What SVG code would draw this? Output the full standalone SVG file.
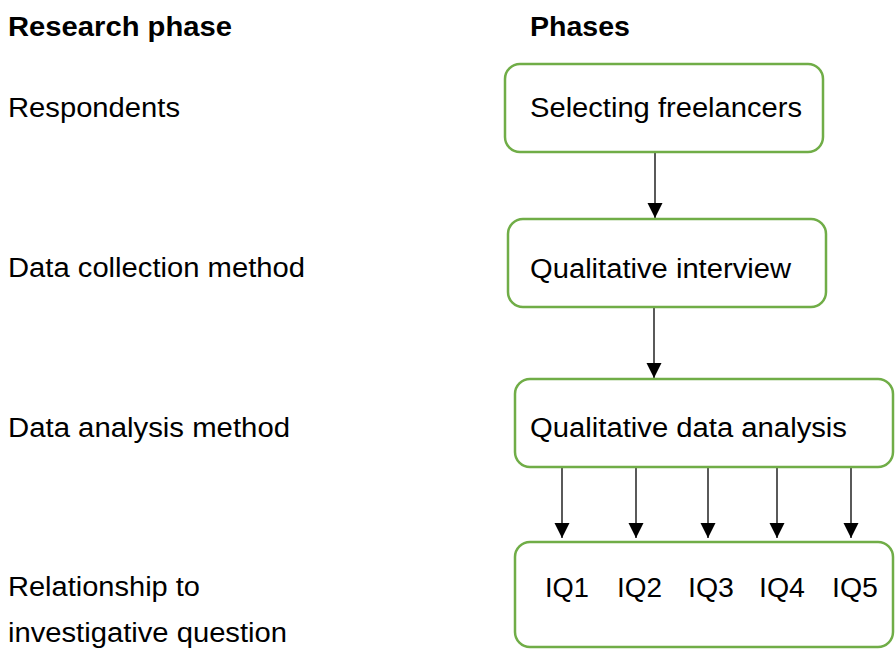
<svg xmlns="http://www.w3.org/2000/svg" width="896" height="649" viewBox="0 0 896 649">
<style>
.t{font-family:"Liberation Sans",Arial,sans-serif;font-size:27px;fill:#000}
.b{font-weight:bold}
.box{fill:#fff;stroke:#70AD47;stroke-width:2.5}
.c{stroke:#000;stroke-width:1.3;fill:none}
</style>
<defs>
<marker id="ah" markerUnits="userSpaceOnUse" markerWidth="16" markerHeight="16" viewBox="0 0 16 16" refX="15" refY="8" orient="auto">
<path d="M0,0.5 L15,8 L0,15.5 Z" fill="#000"/>
</marker>
</defs>
<rect width="896" height="649" fill="#fff"/>
<g id="labels">
<text class="t b" x="8" y="36" textLength="224" lengthAdjust="spacingAndGlyphs">Research phase</text>
<text class="t b" x="530" y="36" textLength="100" lengthAdjust="spacingAndGlyphs">Phases</text>
<text class="t" x="8" y="117" textLength="172" lengthAdjust="spacingAndGlyphs">Respondents</text>
<text class="t" x="8" y="277" textLength="297" lengthAdjust="spacingAndGlyphs">Data collection method</text>
<text class="t" x="8" y="437" textLength="282" lengthAdjust="spacingAndGlyphs">Data analysis method</text>
<text class="t" x="8" y="596" textLength="192" lengthAdjust="spacingAndGlyphs">Relationship to</text>
<text class="t" x="8" y="642" textLength="279" lengthAdjust="spacingAndGlyphs">investigative question</text>
</g>
<g id="connectors">
<line class="c" x1="655" y1="153" x2="655" y2="218" marker-end="url(#ah)"/>
<line class="c" x1="654" y1="308" x2="654" y2="378" marker-end="url(#ah)"/>
<line class="c" x1="562" y1="468" x2="562" y2="538" marker-end="url(#ah)"/>
<line class="c" x1="636" y1="468" x2="636" y2="538" marker-end="url(#ah)"/>
<line class="c" x1="708" y1="468" x2="708" y2="538" marker-end="url(#ah)"/>
<line class="c" x1="777" y1="468" x2="777" y2="538" marker-end="url(#ah)"/>
<line class="c" x1="851" y1="468" x2="851" y2="538" marker-end="url(#ah)"/>
</g>
<g id="node1">
<rect class="box" x="505" y="64" width="318" height="88" rx="15"/>
<text class="t" x="530" y="117" textLength="272" lengthAdjust="spacingAndGlyphs">Selecting freelancers</text>
</g>
<g id="node2">
<rect class="box" x="508" y="219" width="318" height="88" rx="15"/>
<text class="t" x="530" y="278" textLength="261" lengthAdjust="spacingAndGlyphs">Qualitative interview</text>
</g>
<g id="node3">
<rect class="box" x="515" y="379" width="378" height="88" rx="15"/>
<text class="t" x="530" y="437" textLength="317" lengthAdjust="spacingAndGlyphs">Qualitative data analysis</text>
</g>
<g id="node4">
<rect class="box" x="515" y="542" width="378" height="105" rx="15"/>
<text class="t" x="545" y="597" textLength="44" lengthAdjust="spacingAndGlyphs">IQ1</text>
<text class="t" x="617" y="597" textLength="45" lengthAdjust="spacingAndGlyphs">IQ2</text>
<text class="t" x="688" y="597" textLength="46" lengthAdjust="spacingAndGlyphs">IQ3</text>
<text class="t" x="759" y="597" textLength="46" lengthAdjust="spacingAndGlyphs">IQ4</text>
<text class="t" x="832" y="597" textLength="46" lengthAdjust="spacingAndGlyphs">IQ5</text>
</g>
</svg>
